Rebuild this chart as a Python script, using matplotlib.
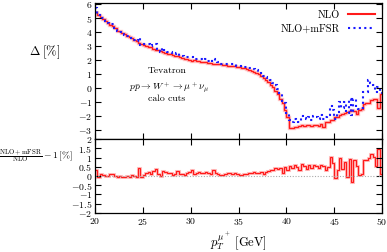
import matplotlib
matplotlib.use('Agg')
import matplotlib.pyplot as plt
from matplotlib.lines import Line2D
from matplotlib.ticker import MultipleLocator, FuncFormatter
import numpy as np

plt.rcParams['font.family'] = 'cmr10'
plt.rcParams['mathtext.fontset'] = 'cm'
plt.rcParams['axes.unicode_minus'] = False
plt.rcParams['axes.formatter.use_mathtext'] = True

# bins of 0.25 GeV from 20 to 50
edges = np.arange(20, 50.001, 0.25)

# Delta [%] for NLO
nlo = [5.40, 5.25, 5.05, 4.95, 4.80, 4.65, 4.50, 4.42, 4.30, 4.10,
       4.05, 3.95, 3.85, 3.72, 3.62, 3.55, 3.45, 3.38, 3.25, 3.15,
       3.08, 3.00, 2.95, 2.90, 2.82, 2.72, 2.70, 2.62, 2.58, 2.50,
       2.45, 2.40, 2.38, 2.30, 2.28, 2.22, 2.15, 2.10, 2.08, 2.02,
       1.95, 1.98, 1.92, 1.90, 1.88, 1.85, 1.85, 1.80, 1.78, 1.75,
       1.75, 1.72, 1.70, 1.66, 1.65, 1.60, 1.60, 1.56, 1.55, 1.50,
       1.50, 1.45, 1.40, 1.35, 1.28, 1.22, 1.15, 1.08, 1.00, 0.88,
       0.75, 0.60, 0.42, 0.25, 0.05, -0.20, -0.45, -0.75, -1.10, -1.55,
       -2.10, -2.85, -2.85, -2.78, -2.80, -2.72, -2.65, -2.70, -2.62, -2.65,
       -2.70, -2.62, -2.65, -2.68, -2.55, -2.78, -2.45, -2.40, -2.30, -2.25,
       -2.10, -2.05, -1.95, -1.85, -1.75, -1.70, -1.65, -1.60, -1.62, -1.88,
       -1.55, -1.50, -1.15, -1.10, -1.05, -0.85, -0.80, -0.80, -1.40, -0.45]

# Delta [%] for NLO+mFSR
mfsr = [5.75, 5.20, 5.15, 5.00, 4.82, 4.63, 4.60, 4.54, 4.32, 4.05,
        4.03, 3.90, 3.80, 3.70, 3.54, 3.60, 3.45, 3.33, 3.60, 3.10,
        3.13, 3.15, 3.15, 3.02, 3.07, 3.12, 2.80, 2.60, 2.83, 2.70,
        2.60, 2.58, 2.43, 2.42, 2.53, 2.32, 2.27, 2.18, 2.23, 2.24,
        2.25, 2.08, 2.07, 2.10, 2.06, 2.00, 2.05, 1.95, 1.88, 2.05,
        1.93, 1.84, 1.75, 1.74, 1.75, 1.75, 1.75, 1.68, 1.73, 1.60,
        1.58, 1.51, 1.50, 1.47, 1.46, 1.37, 1.35, 1.26, 1.15, 1.10,
        0.87, 0.80, 0.67, 0.57, 0.35, 0.25, -0.07, -0.33, -0.95, -1.05,
        -1.75, -2.30, -2.40, -2.18, -2.30, -2.42, -2.00, -2.15, -2.22, -2.05,
        -2.25, -2.00, -2.10, -2.23, -1.95, -2.23, -2.10, -1.90, -1.25, -1.55,
        -2.20, -1.70, -1.00, -1.45, -1.00, -1.75, -0.75, -1.90, -0.77, -1.33,
        -1.50, -1.40, -0.30, -0.25, 0.55, 0.35, 0.25, -0.25, 0.05, -0.35]

# (NLO+mFSR)/NLO - 1 [%]
ratio = [0.35, -0.05, 0.10, 0.05, 0.02, -0.02, 0.10, 0.12, 0.02, -0.05,
         -0.02, -0.05, -0.05, -0.02, -0.08, 0.05, 0.00, -0.05, 0.45, -0.05,
         0.05, 0.15, 0.20, 0.12, 0.25, 0.40, 0.10, -0.02, 0.25, 0.20,
         0.15, 0.18, 0.05, 0.12, 0.25, 0.10, 0.12, 0.08, 0.15, 0.22,
         0.30, 0.10, 0.15, 0.20, 0.18, 0.15, 0.20, 0.15, 0.10, 0.30,
         0.18, 0.12, 0.05, 0.08, 0.10, 0.15, 0.15, 0.12, 0.18, 0.10,
         0.08, 0.06, 0.10, 0.12, 0.18, 0.15, 0.20, 0.18, 0.15, 0.22,
         0.12, 0.20, 0.25, 0.32, 0.30, 0.45, 0.38, 0.42, 0.15, 0.50,
         0.35, 0.55, 0.45, 0.60, 0.50, 0.30, 0.65, 0.55, 0.40, 0.60,
         0.45, 0.62, 0.55, 0.45, 0.60, 0.55, 0.35, 0.50, 1.05, 0.70,
         -0.10, 0.35, 0.95, 0.40, 0.75, -0.05, 0.90, -0.30, 0.85, 0.55,
         0.05, 0.10, 0.85, 0.85, 1.00, 1.20, 1.05, 0.55, 1.45, 0.10]

fig = plt.figure(figsize=(3.87, 2.52), dpi=100)
ax1 = fig.add_axes([0.2455, 0.448, 0.742, 0.540])
ax2 = fig.add_axes([0.2455, 0.155, 0.742, 0.293])

pink = '#ffc4c4'
red = '#ff1a1a'
ax1.stairs(nlo, edges, color=pink, lw=2.4, baseline=None)
ax1.stairs(nlo, edges, color=red, lw=1.0, baseline=None)
ax1.stairs(mfsr, edges, color='#1a1aff', lw=1.5, baseline=None,
           linestyle=(0, (1, 1.6)))

ax2.axhline(0, color='#aaaaaa', lw=0.8, ls=(0, (1, 1.5)))
ax2.stairs(ratio, edges, color=pink, lw=2.2, baseline=None)
ax2.stairs(ratio, edges, color=red, lw=0.9, baseline=None)

fmt = FuncFormatter(lambda v, p: '$%g$' % v)
for ax in (ax1, ax2):
    ax.set_xlim(20, 50)
    ax.xaxis.set_major_locator(MultipleLocator(5))
    ax.tick_params(direction='in', top=True, right=True, length=4,
                   width=0.8, labelsize=7, pad=2)
    ax.yaxis.set_major_formatter(fmt)
    ax.xaxis.set_major_formatter(fmt)
    for s in ax.spines.values():
        s.set_linewidth(0.9)

ax1.set_ylim(-3.65, 6.07)
ax1.yaxis.set_major_locator(MultipleLocator(1))
ax1.tick_params(labelbottom=False)
ax2.set_ylim(-2, 2)
ax2.yaxis.set_major_locator(MultipleLocator(0.5))

handles = [Line2D([], [], color=red, lw=1.5),
           Line2D([], [], color='#1a1aff', lw=1.5, linestyle=(0, (1, 1.6)))]
ax1.legend(handles, ['NLO', 'NLO+mFSR'], loc='upper right', frameon=False,
           markerfirst=False, fontsize=7.5, handlelength=2.6,
           borderaxespad=0.3, labelspacing=0.4)

ax1.text(27.5, 1.24, 'Tevatron', fontsize=7, ha='center', va='center')
ax1.text(27.8, 0.0, r'$p\bar{p}\rightarrow W^+\rightarrow\mu^+\nu_\mu$',
         fontsize=7, ha='center', va='center')
ax1.text(27.5, -0.79, 'calo cuts', fontsize=7, ha='center', va='center')

fig.text(0.116, 0.794, r'$\Delta\;[\%]$', fontsize=9, ha='center', va='center')
fig.text(0.094, 0.381, r'$\frac{\mathrm{NLO+mFSR}}{\mathrm{NLO}}-1\,[\%]$',
         fontsize=7, ha='center', va='center')
fig.text(0.615, 0.042, r'$p_T^{\mu^+}\;[\mathrm{GeV}]$', fontsize=9,
         ha='center', va='center')

fig.savefig('out.png', dpi=100)
